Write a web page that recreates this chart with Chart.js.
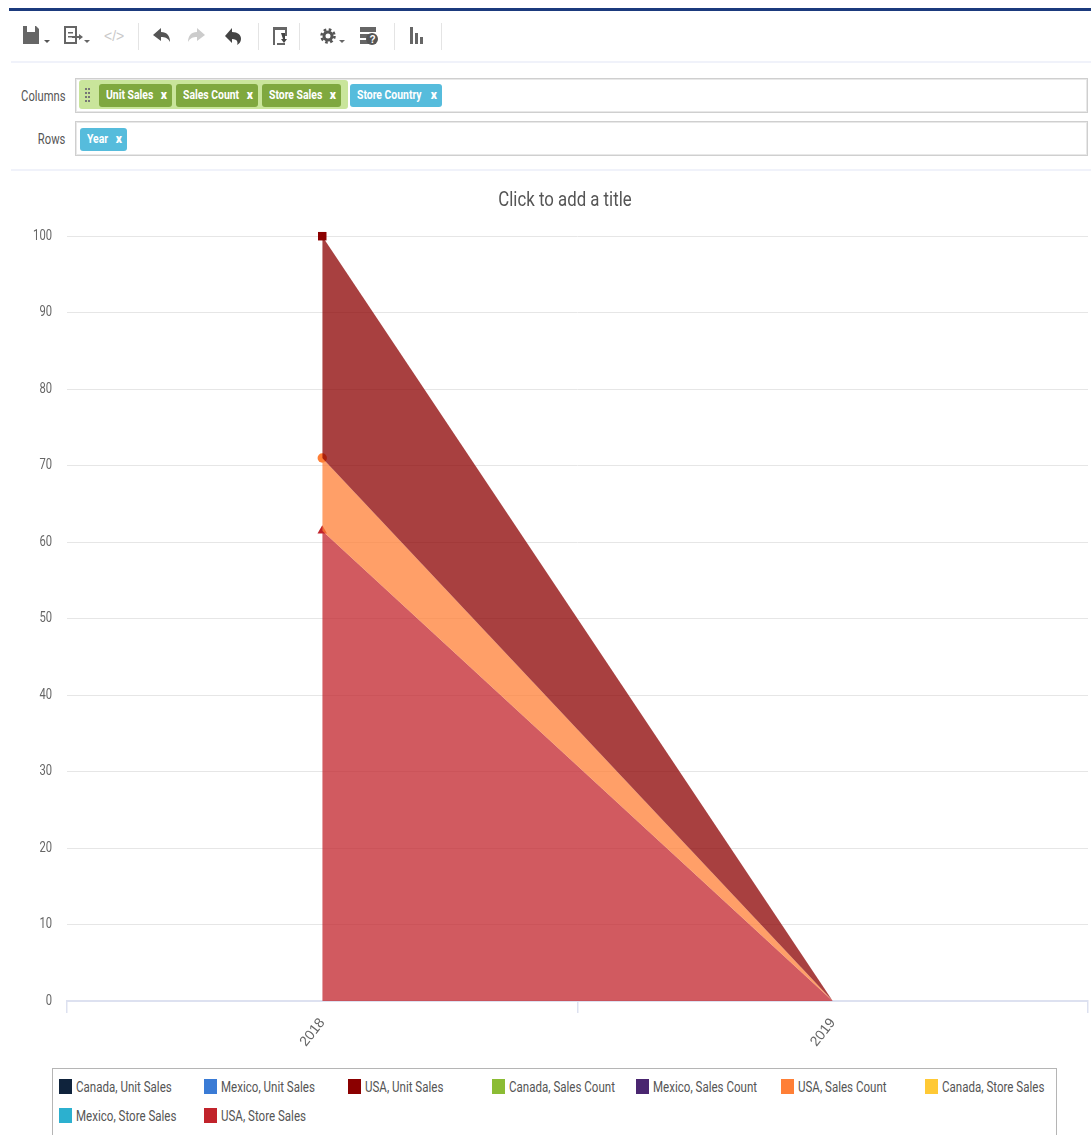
<!DOCTYPE html>
<html><head><meta charset="utf-8">
<script src="https://cdn.jsdelivr.net/npm/chart.js@4"></script>
<style>
html,body{margin:0;padding:0;background:#fff;width:1091px;height:1135px;overflow:hidden;font-family:"Roboto",sans-serif}
.abs{position:absolute}
#topline{left:9px;right:0;top:8px;height:3px;background:#1b3a7d}
.rule{left:11px;right:0;height:2px;background:#f0f2fa}
.sep{width:1px;height:27px;top:23px;background:#e4e4e4}
.field{left:75px;width:1011px;height:33px;border:1px solid #cfcfcf;box-shadow:inset 0 0 0 1px #e8e8e8}
.lab{right:1026px;font-size:14px;color:#555;line-height:16px;transform:scaleX(.8);transform-origin:right}
.group{left:79px;top:80px;width:269px;height:29px;background:#c9e59b;border-radius:3px}
.pill{height:23px;line-height:22px;border-radius:3px;color:#fff;font-weight:bold;font-size:13px;box-sizing:border-box;white-space:nowrap}
.pill span{position:absolute;left:7px;top:0;display:block;transform:scaleX(.8);transform-origin:left}
.pill b{position:absolute;right:5px;top:0;font-size:12px}
.g{background:#7fa83f}.b{background:#56bcdc}
#wrap{left:0;top:180px;width:1091px;height:881px}
#legend{left:52px;top:1068px;width:1003px;height:80px;border:1px solid #b5b5b5}
.li{position:absolute;font-size:14px;color:#555;line-height:16px;white-space:nowrap}
.li i{position:absolute;left:0;top:0;width:13px;height:15px;display:block}
.li span{position:absolute;left:17px;top:0;display:block;transform:scaleX(.825);transform-origin:left}
</style></head><body>
<div class="abs" id="topline"></div>
<svg class="abs" style="left:0;top:0" width="520" height="60" fill="#666">
<path d="M23 26h13l3 3v15H23z"/><path d="M27 26h8v6h-8z" fill="#fff"/><path d="M44 40h6l-3 3z" fill="#555"/>
<path d="M65 27h11v16H65z" fill="none" stroke="#666" stroke-width="2"/><path d="M68 32h5v1.500h-5zM68 36h5v1.500h-5zM72 36h7v-2l4 3-4 3v-2h-7z"/><path d="M84 40h6l-3 3z"/>
<text x="104" y="41" font-size="14" fill="#c9c9c9" font-family="Liberation Sans">&lt;/&gt;</text>
<path d="M153 35l8-7v4c6 0 9 4 9 10-2-4-5-5-9-5v4z" fill="#555"/>
<path d="M205 35l-8-7v4c-6 0-9 4-9 10 2-4 5-5 9-5v4z" fill="#ccc"/>
<path d="M225 36l7-8v4c6 0 9 3 9 7 0 3-2 5-4 6 1-2 1-6-5-6v4z" fill="#444"/>
<path d="M273 27h14v3h-14zM273 30h2v15h-2zM285 30h2v6h-2zM277 45h8v-2h-8z" fill="#666"/><path d="M281 33h4v6h2l-3 4-3-4h2z" fill="#444"/>
<circle cx="328" cy="36" r="4" fill="none" stroke="#555" stroke-width="3"/><circle cx="328" cy="36" r="6.500" fill="none" stroke="#555" stroke-width="2.500" stroke-dasharray="2.600 2.500"/><path d="M339 40h6l-3 3z"/>
<path d="M360 27h16v5h-16zM360 34h9v4h-9zM360 40h9v4h-9z" fill="#666"/><circle cx="372" cy="39" r="6" fill="#555"/><text x="369.500" y="43" font-size="10" fill="#fff" font-family="Liberation Sans" font-weight="bold">?</text>
<path d="M410 27h3v17h-3zM415 33h3v11h-3zM420 37h3v7h-3z" fill="#666"/>
</svg>
<div class="abs sep" style="left:138px"></div><div class="abs sep" style="left:258px"></div><div class="abs sep" style="left:299px"></div><div class="abs sep" style="left:394px"></div><div class="abs sep" style="left:441px"></div>
<div class="abs rule" style="top:61px"></div>
<div class="abs lab" style="top:88px">Columns</div>
<div class="abs lab" style="top:131px">Rows</div>
<div class="abs field" style="top:78px"></div>
<div class="abs field" style="top:121px"></div>
<div class="abs group"></div>
<svg class="abs" style="left:84px;top:87px" width="7" height="15" fill="#777"><path d="M1 1h2v2H1zM4 1h2v2H4zM1 5h2v2H1zM4 5h2v2H4zM1 9h2v2H1zM4 9h2v2H4zM1 13h2v2H1zM4 13h2v2H4z"/></svg>
<div class="abs pill g" style="left:99px;top:84px;width:73px"><span>Unit Sales</span><b>x</b></div>
<div class="abs pill g" style="left:176px;top:84px;width:82px"><span>Sales Count</span><b>x</b></div>
<div class="abs pill g" style="left:262px;top:84px;width:79px"><span>Store Sales</span><b>x</b></div>
<div class="abs pill b" style="left:350px;top:84px;width:92px"><span>Store Country</span><b>x</b></div>
<div class="abs pill b" style="left:80px;top:128px;width:47px"><span>Year</span><b>x</b></div>
<div class="abs rule" style="top:169px"></div>
<div class="abs" id="wrap"><canvas id="c"></canvas></div>
<div class="abs" id="legend"></div>
<script>
const categories = ["2018", "2019"];
const yTicks = [0,10,20,30,40,50,60,70,80,90,100];
const canadaUnitSales = [null, null];
const mexicoUnitSales = [null, null];
const usaUnitSales = [100, 0];
const canadaSalesCount = [null, null];
const mexicoSalesCount = [null, null];
const usaSalesCount = [71, 0];
const canadaStoreSales = [null, null];
const mexicoStoreSales = [null, null];
const usaStoreSales = [61.5, 0];
const seriesNames = ["Canada, Unit Sales","Mexico, Unit Sales","USA, Unit Sales","Canada, Sales Count","Mexico, Sales Count","USA, Sales Count","Canada, Store Sales","Mexico, Store Sales","USA, Store Sales"];
const seriesColors = ["#0f233c","#3a7bd5","#8b0000","#8bbc34","#4a2670","#ff7f36","#ffc935","#2cb0cf","#c1232b"];
const seriesFills = ["rgba(15,35,60,.75)","rgba(58,123,213,.75)","rgba(139,0,0,.75)","rgba(139,188,52,.75)","rgba(74,38,112,.75)","rgba(255,127,54,.75)","rgba(255,201,53,.75)","rgba(44,176,207,.75)","rgba(193,35,43,.75)"];
const seriesValues = [canadaUnitSales,mexicoUnitSales,usaUnitSales,canadaSalesCount,mexicoSalesCount,usaSalesCount,canadaStoreSales,mexicoStoreSales,usaStoreSales];
const markers = ["circle","rect","rect","circle","circle","circle","triangle","triangle","triangle"];
const markerSizes = {2:6, 5:4.7, 8:5.5};
const fillTargets = {2:5, 5:8, 8:"origin"};
const F = '"Roboto",sans-serif';
const canvas = document.getElementById("c");
// the reference text is horizontally condensed: narrow unrotated canvas text around its anchor
const ctx2d = canvas.getContext("2d");
const rawFillText = ctx2d.fillText;
ctx2d.fillText = function(t,x,y,m){
  if (Math.abs(this.getTransform().b) > 1e-6) return rawFillText.call(this,t,x,y,m);
  this.save(); this.translate(x,y); this.scale(.8,1); rawFillText.call(this,t,0,0,m); this.restore();
};
// title is centred on a span off-centre from the canvas, as in the reference
const titleSpan = {id:"titleSpan", afterLayout:c=>{ c.titleBlock.left = 42; }};
new Chart(canvas, {
  type:"line",
  plugins:[titleSpan],
  data:{labels:categories, datasets:seriesNames.map((n,i)=>({
    label:n, data:seriesValues[i], borderColor:seriesFills[i], backgroundColor:seriesFills[i],
    pointBackgroundColor:seriesColors[i], pointBorderWidth:0, pointStyle:markers[i],
    pointRadius:[markerSizes[i]||0,0], pointHoverRadius:[markerSizes[i]||0,0],
    borderWidth:0, tension:0, fill:fillTargets[i]??false, clip:false
  }))},
  options:{
    responsive:true, maintainAspectRatio:false, animation:false,
    layout:{autoPadding:false,padding:{left:0,right:3,top:0,bottom:0}},
    plugins:{
      legend:{display:false}, tooltip:{enabled:false},
      title:{display:true,text:"Click to add a title",color:"#555",font:{family:F,size:21,weight:"normal",lineHeight:1.2},padding:{top:8,bottom:23}}
    },
    scales:{
      x:{offset:true,
        grid:{offset:true,drawOnChartArea:false,drawTicks:true,tickLength:12,color:"#dde1f0",lineWidth:1.5},
        border:{color:"#dde1f0",width:2},
        ticks:{color:"#666",font:{family:"Liberation Sans",size:14},minRotation:52,maxRotation:52,padding:2},
        afterFit:s=>{s.height=60;s.paddingLeft=0;s.paddingRight=0}},
      y:{min:0,max:100,afterBuildTicks:s=>{s.ticks=yTicks.map(v=>({value:v}))},
        grid:{color:"#e6e6e6",lineWidth:1,drawTicks:false},border:{display:false},
        ticks:{color:"#666",font:{family:F,size:14},padding:15},
        afterFit:s=>{s.width=67}}
    }
  }
});
const lx=[59,204,348,492,636,781,925,59,204], ly=[1079,1079,1079,1079,1079,1079,1079,1108,1108];
seriesNames.forEach((n,i)=>{const d=document.createElement("div");d.className="li";d.style.left=lx[i]+"px";d.style.top=ly[i]+"px";d.innerHTML='<i style="background:'+seriesColors[i]+'"></i><span>'+n+'</span>';document.body.appendChild(d);});
</script>
</body></html>
